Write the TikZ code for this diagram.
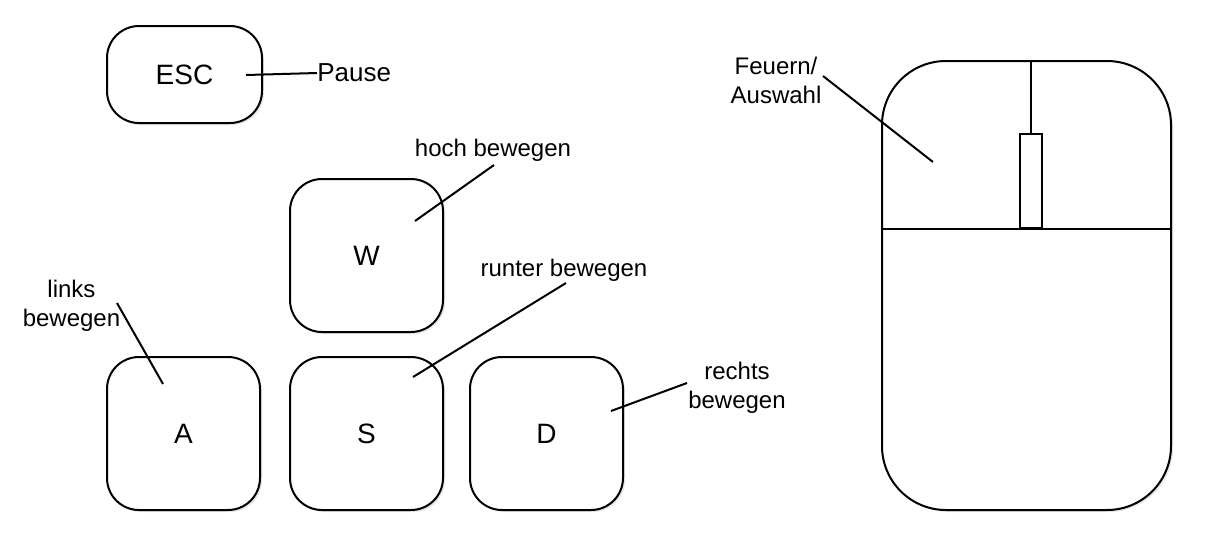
\documentclass[tikz,border=0pt]{standalone}
\usepackage{fontspec}
\setmainfont{Liberation Sans}
\usetikzlibrary{shadows}
\begin{document}
\begin{tikzpicture}[x=0.75pt,y=-0.75pt,
  keybox/.style={draw,line width=1.5pt,rounded corners=24pt,fill=white,
    minimum width=114.75pt,minimum height=114.75pt,inner sep=0pt,
    font=\fontsize{21}{25}\selectfont,
    drop shadow={opacity=0.2,shadow xshift=1.5pt,shadow yshift=-1.5pt}},
  lbl/.style={align=center,inner sep=0pt,font=\fontsize{18}{21.75}\selectfont},
  leader/.style={line width=1.5pt},
  mouseline/.style={line width=1.5pt}]
\useasboundingbox (0,0) rectangle (1215,551);

% keys
\node[keybox,minimum height=72.75pt,minimum width=116.25pt] (esc) at (184.5,74.5) {ESC};
\node[keybox] (w) at (366.5,255.5) {W};
\node[keybox] (a) at (183.5,433.5) {A};
\node[keybox] (s) at (366.5,433.5) {S};
\node[keybox] (d) at (546.5,433.5) {D};

% labels
\node[lbl,anchor=west,font=\fontsize{19.5}{23}\selectfont] (pause) at (317,73) {Pause};
\node[lbl] (hoch) at (493,150) {hoch bewegen};
\node[lbl] (runter) at (564,270) {runter bewegen};
\node[lbl] (links) at (71.5,306) {links\\bewegen};
\node[lbl] (rechts) at (737,388) {rechts\\bewegen};
\node[lbl] (feuern) at (776,80) {Feuern/\\Auswahl};

% leader end points
\coordinate (escin) at (246,75);
\coordinate (win) at (415,221);
\coordinate (wout) at (494,165);
\coordinate (sin) at (413,377);
\coordinate (sout) at (566,283);
\coordinate (ain) at (163,384);
\coordinate (aout) at (117,303);
\coordinate (din) at (611,411);
\coordinate (dout) at (687,383);
\coordinate (min) at (933,162);
\coordinate (mout) at (823,76);

% mouse
\draw[mouseline,fill=white,rounded corners=48pt,
  drop shadow={opacity=0.2,shadow xshift=1.5pt,shadow yshift=-1.5pt}]
  (882,61) rectangle (1171,510);
\coordinate (mleft) at (882,229);
\coordinate (mright) at (1171,229);
\coordinate (mtop) at (1031,61);
\draw[mouseline] (mleft) -- (mright);
\node[draw,mouseline,minimum width=16.5pt,minimum height=70.5pt,inner sep=0pt,anchor=south] (wheel) at (1031,229) {};
\draw[mouseline] (mtop) -- (wheel.north);

% leaders
\draw[leader] (escin) -- (pause.west);
\draw[leader] (win) -- (wout);
\draw[leader] (sin) -- (sout);
\draw[leader] (ain) -- (aout);
\draw[leader] (din) -- (dout);
\draw[leader] (min) -- (mout);
\end{tikzpicture}
\end{document}
